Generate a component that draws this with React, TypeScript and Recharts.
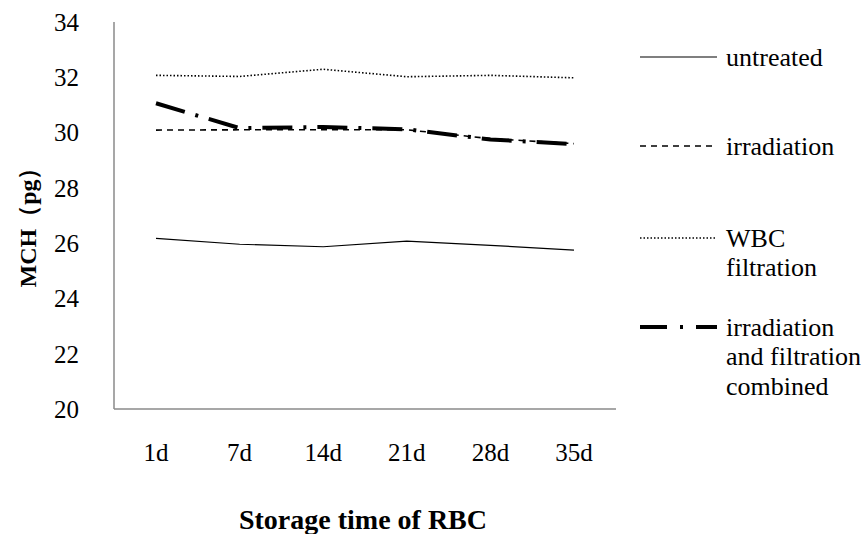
import React from 'react';
import { LineChart, Line, XAxis, YAxis, Legend, Label } from 'recharts';

const categories = ['1d', '7d', '14d', '21d', '28d', '35d'];
const untreated = [26.17, 25.96, 25.87, 26.07, 25.92, 25.75];
const irradiation = [30.09, 30.1, 30.1, 30.1, 29.78, 29.6];
const wbcFiltration = [32.07, 32.03, 32.29, 32.02, 32.07, 31.98];
const combined = [31.06, 30.16, 30.2, 30.12, 29.75, 29.58];
const yTicks = [20, 22, 24, 26, 28, 30, 32, 34];

const seriesNames = ['untreated', 'irradiation', 'WBC filtration', 'irradiation and filtration combined'];
const legendLines = [['untreated'], ['irradiation'], ['WBC', 'filtration'], ['irradiation', 'and filtration', 'combined']];

const data = categories.map((c, i) => ({
  name: c,
  untreated: untreated[i],
  irradiation: irradiation[i],
  wbc: wbcFiltration[i],
  combined: combined[i],
}));

const FONT = '"Liberation Serif", "Times New Roman", serif';

const styles = [
  { stroke: '#000', strokeWidth: 1.2, dash: undefined },
  { stroke: '#000', strokeWidth: 1.6, dash: '6 5' },
  { stroke: '#000', strokeWidth: 1.6, dash: '1.5 2' },
  { stroke: '#000', strokeWidth: 4, dash: '30 11 3 11' },
];

const legendY = [57, 146, 238, 327];

const LegendContent = () => (
  <svg width={243} height={420} style={{ display: 'block', fontFamily: FONT }}>
    {legendLines.map((lines, i) => (
      <g key={i}>
        <line
          x1={20}
          x2={97}
          y1={legendY[i]}
          y2={legendY[i]}
          stroke={styles[i].stroke}
          strokeWidth={i === 3 ? 4 : styles[i].strokeWidth}
          strokeDasharray={i === 3 ? '27 13 3 13' : styles[i].dash}
        />
        {lines.map((t, j) => (
          <text
            key={j}
            x={106}
            y={legendY[i] + j * 29.5}
            dominantBaseline="central"
            style={{ fontFamily: FONT, fontSize: 26 }}
            fill="#000"
          >
            {t}
          </text>
        ))}
      </g>
    ))}
  </svg>
);

export default function App() {
  return (
    <div style={{ position: 'absolute', left: 0, top: 0, width: 863, height: 534, background: '#fff' }}>
      <LineChart
        width={863}
        height={534}
        data={data}
        margin={{ top: 22, right: 247, bottom: 0, left: 0 }}
      >
        <XAxis
          dataKey="name"
          padding={{ left: 42, right: 42 }}
          axisLine={{ stroke: '#8a8a8a', strokeWidth: 1.5 }}
          tickLine={false}
          tickSize={0}
          tickMargin={34}
          tick={{ fontFamily: FONT, fontSize: 25, fill: '#000' }}
          height={125}
        >
          <Label
            content={({ viewBox }: any) => (
              <text
                x={viewBox.x + viewBox.width / 2 - 2}
                y={529}
                textAnchor="middle"
                style={{ fontFamily: FONT, fontWeight: 'bold', fontSize: 28 }}
                fill="#000"
              >
                Storage time of RBC
              </text>
            )}
          />
        </XAxis>
        <YAxis
          domain={[20, 34]}
          ticks={yTicks}
          interval={0}
          width={114}
          axisLine={{ stroke: '#8a8a8a', strokeWidth: 1.5 }}
          tickLine={false}
          tickSize={0}
          tickMargin={35}
          tick={{ fontFamily: FONT, fontSize: 25, fill: '#000' }}
        >
          <Label
            content={({ viewBox }: any) => {
              const cx = 28;
              const cy = viewBox.y + viewBox.height / 2 + 6;
              return (
                <text
                  x={cx}
                  y={cy}
                  transform={`rotate(-90 ${cx} ${cy})`}
                  textAnchor="middle"
                  dominantBaseline="central"
                  style={{ fontFamily: FONT, fontWeight: 'bold', fontSize: 24 }}
                  fill="#000"
                >
                  MCH（pg）
                </text>
              );
            }}
          />
        </YAxis>
        <Legend
          layout="horizontal"
          verticalAlign="middle"
          align="center"
          width={243}
          wrapperStyle={{ left: 620, top: 0, width: 243, height: 420 }}
          content={() => <LegendContent />}
        />
        <Line dataKey="untreated" name={seriesNames[0]} stroke={styles[0].stroke} strokeWidth={styles[0].strokeWidth} dot={false} isAnimationActive={false} />
        <Line dataKey="irradiation" name={seriesNames[1]} stroke={styles[1].stroke} strokeWidth={styles[1].strokeWidth} strokeDasharray={styles[1].dash} dot={false} isAnimationActive={false} />
        <Line dataKey="wbc" name={seriesNames[2]} stroke={styles[2].stroke} strokeWidth={styles[2].strokeWidth} strokeDasharray={styles[2].dash} dot={false} isAnimationActive={false} />
        <Line dataKey="combined" name={seriesNames[3]} stroke={styles[3].stroke} strokeWidth={styles[3].strokeWidth} strokeDasharray={styles[3].dash} dot={false} isAnimationActive={false} />
      </LineChart>
    </div>
  );
}
